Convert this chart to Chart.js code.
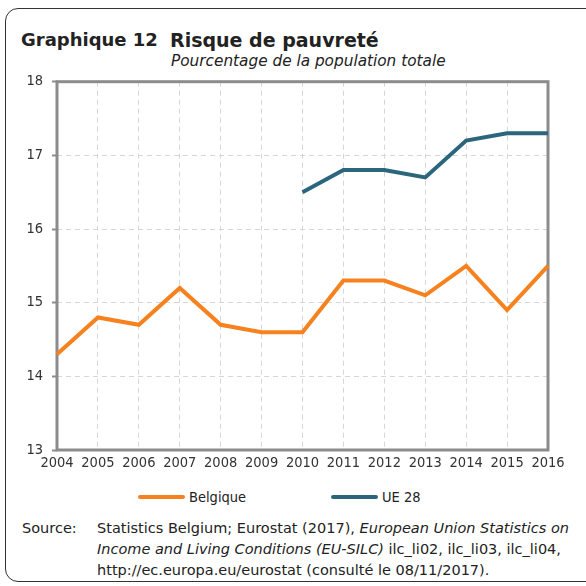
<!DOCTYPE html>
<html><head><meta charset="utf-8">
<script src="https://cdn.jsdelivr.net/npm/chart.js@4"></script>
<style>
html,body{margin:0;padding:0;background:#fff;width:586px;height:586px;overflow:hidden;font-family:'DejaVu Sans',sans-serif;color:#222;}
#frame{position:absolute;left:5px;top:8px;width:620px;height:574px;border:1.5px solid #333;border-radius:13px;box-sizing:border-box;}
.t{position:absolute;white-space:nowrap;}
#c{position:absolute;left:0;top:64px;}
.leg{position:absolute;top:488px;height:18px;display:flex;align-items:center;font-size:14.5px;font-family:'DejaVu Sans Condensed','DejaVu Sans',sans-serif;}
.leg span.l{display:inline-block;width:47px;height:4px;border-radius:2px;margin-right:4px;}
.src{position:absolute;font-size:14.5px;line-height:21px;white-space:nowrap;}
</style></head><body>
<div id="frame"></div>
<div class="t" style="left:21px;top:29px;font-size:18px;font-weight:bold;">Graphique 12</div>
<div class="t" style="left:170px;top:29px;font-size:19px;font-weight:bold;">Risque de pauvreté</div>
<div class="t" style="left:171px;top:52px;font-size:15.3px;font-style:italic;">Pourcentage de la population totale</div>
<canvas id="c" width="586" height="416"></canvas>
<div id="legend"></div>
<div class="src" style="left:22px;top:518px;">Source:</div>
<div class="src" style="left:97px;top:518px;">Statistics Belgium; Eurostat (2017), <i>European Union Statistics on</i><br><i>Income and Living Conditions (EU-SILC)</i> ilc_li02, ilc_li03, ilc_li04,<br>http://ec.europa.eu/eurostat (consulté le 08/11/2017).</div>
<script>
const years = ['2004','2005','2006','2007','2008','2009','2010','2011','2012','2013','2014','2015','2016'];
const belgique = [14.3,14.8,14.7,15.2,14.7,14.6,14.6,15.3,15.3,15.1,15.5,14.9,15.5];
const ue28 = [null,null,null,null,null,null,16.5,16.8,16.8,16.7,17.2,17.3,17.3];
const seriesNames = ['Belgique','UE 28'];
const seriesColors = ['#F6821F','#2C667D'];
const legendLeft = [138,331];

const FONT = "'DejaVu Sans Condensed','DejaVu Sans',sans-serif";
const frame = {
  id:'frame',
  beforeDatasetsDraw(chart){
    const {ctx, chartArea:a} = chart;
    ctx.save();
    ctx.strokeStyle = '#8c8c8c';
    ctx.lineWidth = 3;
    ctx.strokeRect(a.left, a.top, a.right - a.left, a.bottom - a.top);
    ctx.restore();
  }
};
new Chart(document.getElementById('c'), {
  type:'line',
  data:{
    labels: years,
    datasets:[
      {label:seriesNames[0], data:belgique, borderColor:seriesColors[0], backgroundColor:seriesColors[0], borderWidth:4, pointRadius:0, tension:0, spanGaps:false},
      {label:seriesNames[1], data:ue28, borderColor:seriesColors[1], backgroundColor:seriesColors[1], borderWidth:4, pointRadius:0, tension:0, spanGaps:false}
    ]
  },
  options:{
    responsive:false, animation:false,
    layout:{padding:{top:5,right:38,left:0,bottom:0}},
    plugins:{legend:{display:false}, tooltip:{enabled:false}},
    scales:{
      x:{
        offset:false,
        grid:{color:'#d6d6d6', drawTicks:false, lineWidth:1},
        border:{display:false, dash:[5,4]},
        ticks:{color:'#333', font:{family:FONT,size:14.5}, maxRotation:0, autoSkip:false, padding:5},
        afterFit(s){ s.height = 30; }
      },
      y:{
        min:13, max:18,
        grid:{color:'#d6d6d6', tickColor:'#8c8c8c', tickLength:5, tickWidth:2, lineWidth:1},
        border:{display:false, dash:[5,4]},
        ticks:{stepSize:1, color:'#333', font:{family:FONT,size:14.5}, padding:9},
        afterFit(s){ s.width = 57; }
      }
    }
  },
  plugins:[frame]
});
const lg = document.getElementById('legend');
seriesNames.forEach((n,i)=>{
  const d = document.createElement('div');
  d.className='leg';
  d.style.left = legendLeft[i]+'px';
  d.innerHTML = '<span class="l" style="background:'+seriesColors[i]+'"></span>'+n;
  lg.appendChild(d);
});
</script>
</body></html>
